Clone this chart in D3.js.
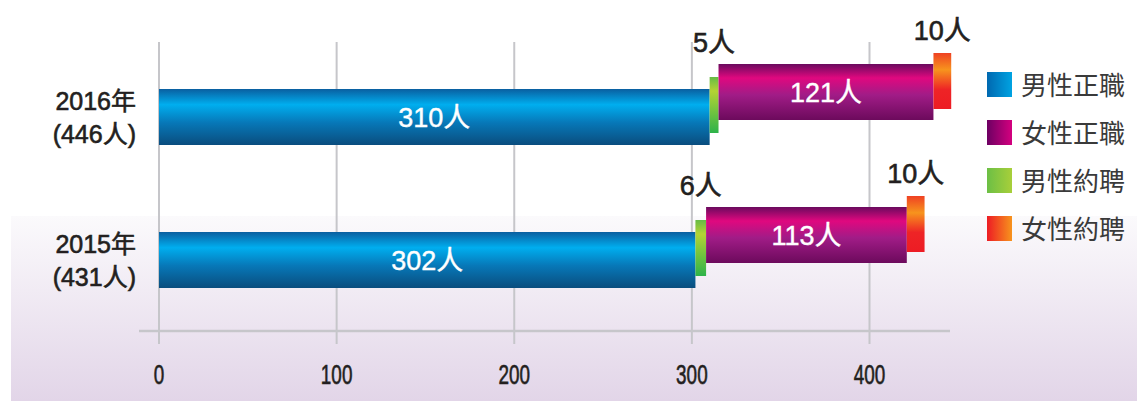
<!DOCTYPE html>
<html>
<head>
<meta charset="utf-8">
<script src="https://cdn.jsdelivr.net/npm/d3@7"></script>
<style>
  html, body { margin: 0; padding: 0; background: #fff; }
  svg { display: block; }
  text { font-family: "Liberation Sans", Arial, "Noto Sans CJK TC", sans-serif; }
  .heavy { stroke-width: 0.6px; paint-order: stroke; }
</style>
</head>
<body>
<svg id="chart" width="1137" height="401"></svg>
<script>
// chart data
const years = ['2016年', '2015年'];
const totals = [446, 431];
const maleFull = [310, 302];
const maleContract = [5, 6];
const femaleFull = [121, 113];
const femaleContract = [10, 10];
const xTicks = [0, 100, 200, 300, 400];
const legendNames = ['男性正職', '女性正職', '男性約聘', '女性約聘'];

const svg = d3.select('#chart');
const defs = svg.append('defs');

// background gradient in the lower half
const bg = defs.append('linearGradient').attr('id', 'bg').attr('x1', 0).attr('y1', 0).attr('x2', 0).attr('y2', 1);
bg.append('stop').attr('offset', '0%').attr('stop-color', '#fbfafc');
bg.append('stop').attr('offset', '100%').attr('stop-color', '#e2d5e8');
svg.append('rect').attr('x', 11).attr('y', 216).attr('width', 1126).attr('height', 185).attr('fill', 'url(#bg)');

// vertical gradients for the bars
function vGrad(id, stops) {
  const g = defs.append('linearGradient').attr('id', id).attr('x1', 0).attr('y1', 0).attr('x2', 0).attr('y2', 1);
  stops.forEach(s => g.append('stop').attr('offset', s[0]).attr('stop-color', s[1]));
}
function hGrad(id, c1, c2) {
  const g = defs.append('linearGradient').attr('id', id).attr('x1', 0).attr('y1', 0).attr('x2', 1).attr('y2', 0);
  g.append('stop').attr('offset', '0%').attr('stop-color', c1);
  g.append('stop').attr('offset', '100%').attr('stop-color', c2);
}
vGrad('gBlue', [['0%', '#0a5fa0'], ['28%', '#00aeef'], ['60%', '#0778b8'], ['100%', '#0a4d7e']]);
vGrad('gPurple', [['0%', '#6a0a5e'], ['25%', '#e0087f'], ['55%', '#a11c87'], ['100%', '#6c0a5c']]);
vGrad('gGreen', [['0%', '#66bb46'], ['25%', '#b4d334'], ['100%', '#2db34a']]);
vGrad('gRed', [['0%', '#ef4123'], ['30%', '#f7941d'], ['65%', '#ee2426'], ['100%', '#ed1c24']]);
hGrad('lBlue', '#0068b0', '#00a3e2');
hGrad('lPurple', '#6d0063', '#d4007f');
hGrad('lGreen', '#6cbf45', '#a8cf3a');
hGrad('lRed', '#ed1c24', '#f7941d');

const x = d3.scaleLinear().domain([0, 400]).range([159, 869.5]);
const y = d3.scalePoint().domain(years).range([117, 260]);
const barH = 56;

// grid lines
svg.append('g').selectAll('line').data(xTicks).join('line')
  .attr('x1', d => x(d)).attr('x2', d => x(d))
  .attr('y1', 42).attr('y2', 344)
  .attr('stroke', '#c6c6ca').attr('stroke-width', 2);

// axis line
svg.append('line').attr('x1', 139).attr('x2', 950).attr('y1', 331).attr('y2', 331)
  .attr('stroke', '#c6c6ca').attr('stroke-width', 2.5);

// x tick labels (condensed look)
svg.append('g').selectAll('text').data(xTicks).join('text')
  .attr('class', 'heavy')
  .attr('transform', d => `translate(${x(d)},384) scale(0.7,1)`)
  .attr('text-anchor', 'middle')
  .attr('font-size', 27)
  .attr('fill', '#231f20').attr('stroke', '#231f20')
  .text(d => d);

// stacked segments, each one stepped a little higher than the one before
const series = [
  { values: maleFull, fill: 'url(#gBlue)', lift: 0, label: 'inside' },
  { values: maleContract, fill: 'url(#gGreen)', lift: 12, label: 'above', gap: 25 },
  { values: femaleFull, fill: 'url(#gPurple)', lift: 25, label: 'inside' },
  { values: femaleContract, fill: 'url(#gRed)', lift: 36, label: 'above', gap: 13 }
];

years.forEach((yr, i) => {
  let start = 0;
  const top0 = y(yr) - barH / 2;
  series.forEach(s => {
    const v = s.values[i];
    const x0 = x(start), x1 = x(start + v);
    const top = top0 - s.lift;
    svg.append('rect')
      .attr('x', x0).attr('y', top)
      .attr('width', x1 - x0).attr('height', barH)
      .attr('fill', s.fill);
    if (s.label === 'inside') {
      svg.append('text')
        .attr('class', 'heavy')
        .attr('x', (x0 + x1) / 2).attr('y', top + barH / 2 + 10)
        .attr('text-anchor', 'middle').attr('font-size', 27)
        .attr('fill', '#fff').attr('stroke', '#fff').style('stroke-width', '0.4px')
        .text(v + '人');
    } else {
      svg.append('text')
        .attr('class', 'heavy')
        .attr('x', (x0 + x1) / 2).attr('y', top - s.gap)
        .attr('text-anchor', 'middle').attr('font-size', 27)
        .attr('fill', '#231f20').attr('stroke', '#231f20').text(v + '人');
    }
    start += v;
  });

  // category labels
  svg.append('text').attr('class', 'heavy').attr('x', 136).attr('y', y(yr) - 7)
    .attr('text-anchor', 'end').attr('font-size', 25)
    .attr('fill', '#231f20').attr('stroke', '#231f20')
    .text(yr);
  svg.append('text').attr('class', 'heavy').attr('x', 136).attr('y', y(yr) + 26)
    .attr('text-anchor', 'end').attr('font-size', 25)
    .attr('fill', '#231f20').attr('stroke', '#231f20')
    .text('(' + totals[i] + '人)');
});

// legend
const legendFills = ['url(#lBlue)', 'url(#lPurple)', 'url(#lGreen)', 'url(#lRed)'];
const legend = svg.append('g').selectAll('g').data(legendNames).join('g')
  .attr('transform', (d, i) => `translate(987,${72 + i * 48})`);
legend.append('rect').attr('width', 25).attr('height', 25).attr('fill', (d, i) => legendFills[i]);
legend.append('text').attr('x', 34).attr('y', 23)
  .attr('font-size', 26).attr('fill', '#3a3a3a')
  .style('font-family', '"Noto Sans CJK TC", sans-serif')
  .text(d => d);
</script>
</body>
</html>
